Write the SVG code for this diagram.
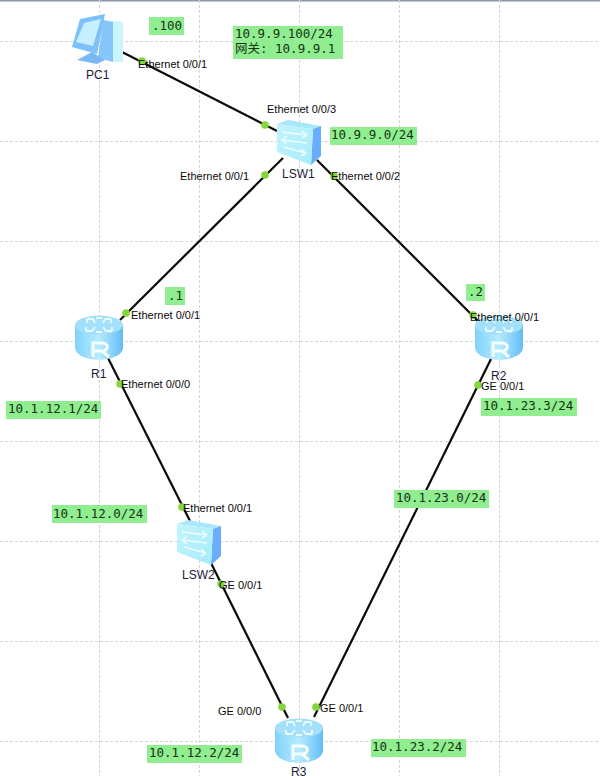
<svg xmlns="http://www.w3.org/2000/svg" width="600" height="776" viewBox="0 0 600 776">
<style>
.grid{stroke:#d4d4d4;stroke-width:1;stroke-dasharray:3 2;fill:none}
.link{stroke:#0a0a0a;stroke-width:2.200;fill:none}
.dot{fill:#84d63a}
.lab{font-family:"Liberation Sans",Arial,sans-serif;font-size:11px;fill:#0a0a0a}
.name{font-family:"Liberation Sans",Arial,sans-serif;font-size:12px;fill:#1a1a3a}
.note{fill:#90ee90}
.mono{font-family:"DejaVu Sans Mono","Liberation Mono","Noto Sans CJK SC",monospace;font-size:12.500px;fill:#143214}
</style>
<defs>
<linearGradient id="side" x1="0" x2="1" y1="0" y2="0"><stop offset="0" stop-color="#7fd2fb"/><stop offset=".5" stop-color="#b8ecff"/><stop offset="1" stop-color="#62bcf6"/></linearGradient>
<linearGradient id="face" x1="0" x2="1" y1="0" y2="1"><stop offset="0" stop-color="#c2f4ff"/><stop offset="1" stop-color="#a6ecfb"/></linearGradient>
<g id="router">
<path d="M-24,-13 V9 C-24,26 24,26 24,9 V-13 Z" fill="url(#side)"/>
<ellipse cx="0" cy="-13" rx="24" ry="9.500" fill="#a4dffb"/>
<path d="M-12,-19 H-6 L-4,-15 M-12,-19 V-15 M12,-19 H6 L4,-15 M12,-19 V-15 M-13,-7 H-7 L-4,-11 M-13,-7 V-11 M13,-7 H7 L4,-11 M13,-7 V-11 M-3,-20 H3 M-3,-6 H3" stroke="#e8fbff" stroke-width="1.800" fill="none"/>
<path d="M-6,19 V5 H3 C10,5 10,13 3,13 H-6 M3,13 L10,19" stroke="#f5fdff" stroke-width="3.200" fill="none"/>
</g>
<g id="switch">
<path d="M-22,-18 L-11,-22 L22,-16 L14,-13 Z" fill="#a8e8fa"/>
<path d="M14,-13 L22,-16 V14 L12,23 Z" fill="#68aefc"/>
<path d="M-22,-18 L14,-13 L12,23 L-22,10 Z" fill="url(#face)"/>
<path d="M-17,-10 L8,-7 M8,-7 L3,-11 M8,-7 L3,-4 M8,1 L-17,-2 M-17,-2 L-12,-6 M-17,-2 L-12,2 M-15,5 L7,11 M7,11 L2,7 M7,11 L2,14" stroke="#f2fcff" stroke-width="1.500" fill="none"/>
</g>
</defs>
<rect width="600" height="776" fill="#ffffff"/>
<rect width="600" height="1.500" fill="#8d9aa5"/>
<g id="grid">
<path class="grid" d="M99.500,0V776M199.500,0V776M299.500,0V776M399.500,0V776M499.500,0V776M0,41.500H600M0,141.500H600M0,241.500H600M0,341.500H600M0,441.500H600M0,541.500H600M0,641.500H600M0,741.500H600"/>
</g>
<g id="connectors">
<line class="link" x1="122" y1="52" x2="277" y2="131"/>
<line class="link" x1="283" y1="158" x2="120" y2="320"/>
<line class="link" x1="317" y1="160" x2="480" y2="323"/>
<line class="link" x1="108" y1="358" x2="190" y2="521"/>
<line class="link" x1="491" y1="359" x2="314" y2="717"/>
<line class="link" x1="210" y1="561" x2="288" y2="718"/>
</g>
<g id="PC1">
<path d="M103,20 L123,22 V62 L113,62 Z" fill="#c8f5ff"/>
<path d="M103,20 L113,22 V62 L98,58 Z" fill="#86c6fa"/>
<path d="M77,60 L92,52 L105,60 L97,64 Z" fill="#7db8f6"/>
<path d="M80,19 L105,14 L97,54 L72,47 Z" fill="#7ec0fa"/>
<path d="M84,23 L101,19 L93,46 L76,42 Z" fill="#c6efff"/>
<text class="name" x="86" y="79">PC1</text>
</g>
<g id="LSW1">
<use href="#switch" x="299" y="142"/>
<text class="name" x="282" y="178">LSW1</text>
</g>
<g id="LSW2">
<use href="#switch" x="199" y="542"/>
<text class="name" x="182" y="579">LSW2</text>
</g>
<g id="R1">
<use href="#router" x="99" y="338"/>
<text class="name" x="91" y="378">R1</text>
</g>
<g id="R2">
<use href="#router" x="499" y="338"/>
<text class="name" x="491" y="380">R2</text>
</g>
<g id="R3">
<use href="#router" x="299" y="741"/>
<text class="name" x="291" y="776">R3</text>
</g>
<g id="port-labels">
<circle class="dot" cx="142" cy="61" r="3.800"/><text class="lab" x="138" y="68">Ethernet 0/0/1</text>
<circle class="dot" cx="265" cy="125" r="3.800"/><text class="lab" x="267" y="113">Ethernet 0/0/3</text>
<circle class="dot" cx="265" cy="175" r="3.800"/><text class="lab" x="180" y="180">Ethernet 0/0/1</text>
<circle class="dot" cx="334" cy="176" r="3.800"/><text class="lab" x="331" y="180">Ethernet 0/0/2</text>
<circle class="dot" cx="126" cy="313" r="3.800"/><text class="lab" x="131" y="319">Ethernet 0/0/1</text>
<circle class="dot" cx="120" cy="384" r="3.800"/><text class="lab" x="121" y="388">Ethernet 0/0/0</text>
<circle class="dot" cx="473" cy="315" r="3.800"/><text class="lab" x="470" y="321">Ethernet 0/0/1</text>
<circle class="dot" cx="478" cy="385" r="3.800"/><text class="lab" x="481" y="390">GE 0/0/1</text>
<circle class="dot" cx="182" cy="507" r="3.800"/><text class="lab" x="183" y="512">Ethernet 0/0/1</text>
<circle class="dot" cx="221" cy="584" r="3.800"/><text class="lab" x="219" y="589">GE 0/0/1</text>
<circle class="dot" cx="282" cy="707" r="3.800"/><text class="lab" x="218" y="715">GE 0/0/0</text>
<circle class="dot" cx="316" cy="707" r="3.800"/><text class="lab" x="320" y="712">GE 0/0/1</text>
</g>
<g id="notes">
<rect class="note" x="149" y="17" width="35" height="18"/><text class="mono" x="152" y="30">.100</text>
<rect class="note" x="233" y="26" width="110" height="33"/><text class="mono" x="235" y="38">10.9.9.100/24</text><text class="mono" x="235" y="53">网关: 10.9.9.1</text>
<rect class="note" x="330" y="127" width="87" height="18"/><text class="mono" x="331" y="139">10.9.9.0/24</text>
<rect class="note" x="165" y="287" width="20" height="18"/><text class="mono" x="168" y="300">.1</text>
<rect class="note" x="466" y="284" width="19" height="17"/><text class="mono" x="468" y="296">.2</text>
<rect class="note" x="6" y="401" width="95" height="18"/><text class="mono" x="8" y="413">10.1.12.1/24</text>
<rect class="note" x="481" y="398" width="96" height="18"/><text class="mono" x="483" y="410">10.1.23.3/24</text>
<rect class="note" x="394" y="490" width="95" height="18"/><text class="mono" x="396" y="502">10.1.23.0/24</text>
<rect class="note" x="52" y="505" width="95" height="18"/><text class="mono" x="53" y="518">10.1.12.0/24</text>
<rect class="note" x="147" y="745" width="95" height="18"/><text class="mono" x="149" y="757">10.1.12.2/24</text>
<rect class="note" x="371" y="739" width="95" height="18"/><text class="mono" x="372" y="751">10.1.23.2/24</text>
</g>
</svg>
